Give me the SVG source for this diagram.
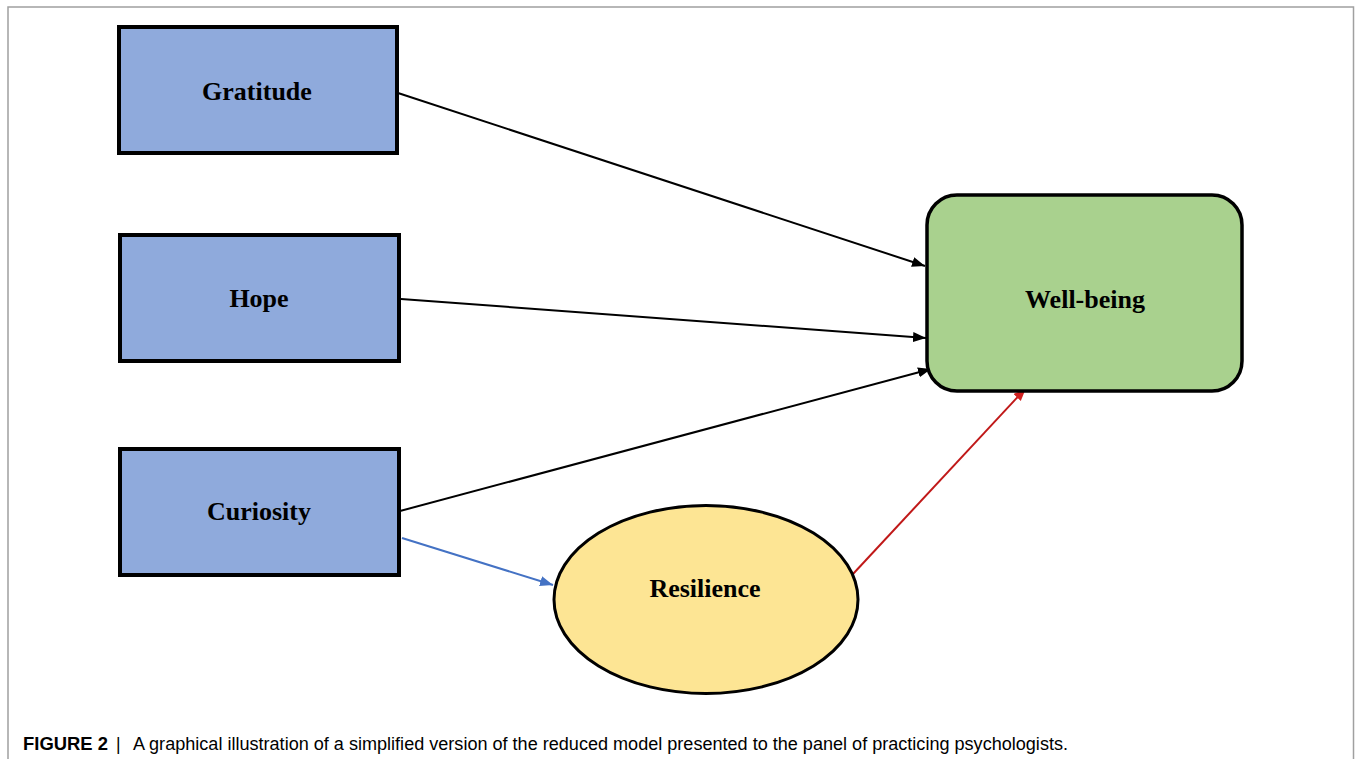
<svg xmlns="http://www.w3.org/2000/svg" width="1356" height="759" viewBox="0 0 1356 759">
<style>
.box{fill:#8faadc;stroke:#000;stroke-width:4}
.lbl{font-family:"Liberation Serif","Times New Roman",serif;font-weight:bold;font-size:26px;fill:#000;text-anchor:middle}
.conn{fill:none;stroke-width:2}
.cap{font-family:"Liberation Sans",Arial,sans-serif;font-size:17.5px;fill:#000}
</style>
<defs>
<marker id="ahB" markerUnits="userSpaceOnUse" markerWidth="14" markerHeight="12" refX="13" refY="5" orient="auto">
<path d="M0,0 L13,5 L0,10 Z" fill="#000"/>
</marker>
<marker id="ahBlue" markerUnits="userSpaceOnUse" markerWidth="14" markerHeight="12" refX="13" refY="5" orient="auto">
<path d="M0,0 L13,5 L0,10 Z" fill="#4472c4"/>
</marker>
<marker id="ahRed" markerUnits="userSpaceOnUse" markerWidth="14" markerHeight="12" refX="13" refY="5" orient="auto">
<path d="M0,0 L13,5 L0,10 Z" fill="#d02020"/>
</marker>
</defs>
<rect x="0" y="0" width="1356" height="759" fill="#fff"/>
<rect x="8" y="7" width="1345.5" height="800" fill="none" stroke="#a0a0a0" stroke-width="1.5"/>

<g id="connectors">
<line class="conn" x1="398" y1="93" x2="925" y2="266" stroke="#000" marker-end="url(#ahB)"/>
<line class="conn" x1="401" y1="299" x2="926" y2="338" stroke="#000" marker-end="url(#ahB)"/>
<line class="conn" x1="400" y1="511" x2="931" y2="369" stroke="#000" marker-end="url(#ahB)"/>
<line class="conn" x1="402" y1="538" x2="553" y2="585" stroke="#4472c4" stroke-width="1.6" marker-end="url(#ahBlue)"/>
<line class="conn" x1="853" y1="574" x2="1026" y2="388" stroke="#c01818" stroke-width="1.6" marker-end="url(#ahRed)"/>
</g>

<g id="gratitude">
<rect class="box" x="119" y="27" width="278" height="126"/>
<text class="lbl" x="257" y="100">Gratitude</text>
</g>
<g id="hope">
<rect class="box" x="120" y="235" width="279" height="126"/>
<text class="lbl" x="259" y="307">Hope</text>
</g>
<g id="curiosity">
<rect class="box" x="120" y="449" width="279" height="126"/>
<text class="lbl" x="259" y="520">Curiosity</text>
</g>
<g id="wellbeing">
<rect x="927" y="195" width="315" height="196" rx="30" ry="30" fill="#a9d18e" stroke="#000" stroke-width="3.5"/>
<text class="lbl" x="1085" y="308">Well-being</text>
</g>
<g id="resilience">
<ellipse cx="706" cy="599.5" rx="152" ry="94" fill="#fde594" stroke="#000" stroke-width="3"/>
<text class="lbl" x="705" y="597">Resilience</text>
</g>

<g id="caption">
<text class="cap" x="23" y="750" font-weight="bold" textLength="85" lengthAdjust="spacingAndGlyphs">FIGURE 2</text>
<text class="cap" x="116" y="750">|</text>
<text class="cap" x="133" y="750" textLength="935" lengthAdjust="spacingAndGlyphs">A graphical illustration of a simplified version of the reduced model presented to the panel of practicing psychologists.</text>
</g>
</svg>
